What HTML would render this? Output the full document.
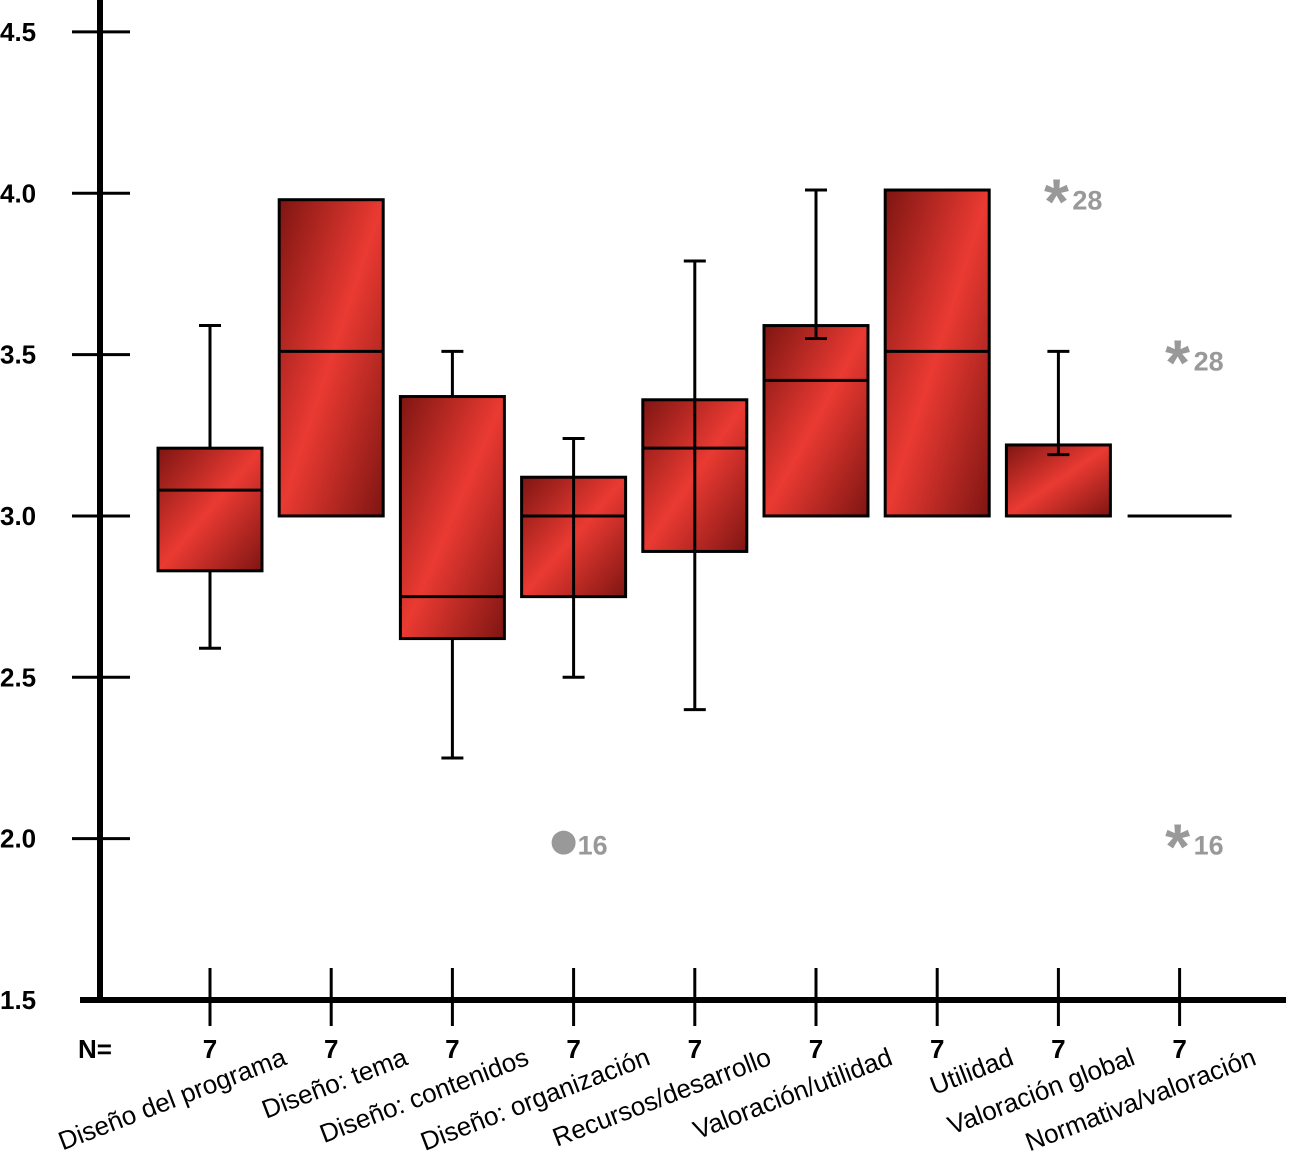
<!DOCTYPE html>
<html><head><meta charset="utf-8"><style>body{margin:0;background:#fff}svg{display:block}</style></head>
<body>
<svg id="chart" width="1289" height="1170" viewBox="0 0 1289 1170" xmlns="http://www.w3.org/2000/svg" font-family="Liberation Sans, sans-serif">
<defs>
<linearGradient id="g" x1="0" y1="0" x2="1" y2="1">
<stop offset="0" stop-color="#7e1512"/><stop offset="0.5" stop-color="#ea3a32"/><stop offset="1" stop-color="#7e1512"/>
</linearGradient>
</defs>
<g id="plot"></g>
</svg>
<script>
const categories=["Diseño del programa","Diseño: tema","Diseño: contenidos","Diseño: organización","Recursos/desarrollo","Valoración/utilidad","Utilidad","Valoración global","Normativa/valoración"];
const nValues=[7,7,7,7,7,7,7,7,7];
const q1=[2.83,3.0,2.62,2.75,2.89,3.0,3.0,3.0,3.0];
const medians=[3.08,3.51,2.75,3.0,3.21,3.42,3.51,3.0,3.0];
const q3=[3.21,3.98,3.37,3.12,3.36,3.59,4.01,3.22,3.0];
const whiskerLow=[2.59,null,2.25,2.5,2.4,3.55,null,3.19,null];
const whiskerHigh=[3.59,null,3.51,3.24,3.79,4.01,null,3.51,null];
const whiskerThrough=[false,false,false,true,true,false,false,false,false];
const outlierCat=[3,7,8,8];
const outlierVal=[2.0,4.0,3.5,2.0];
const outlierLabel=["16","28","28","16"];
const outlierType=["circle","star","star","star"];
const yTicks=[1.5,2.0,2.5,3.0,3.5,4.0,4.5];

const NS="http://www.w3.org/2000/svg";
const g=document.getElementById('plot');
const y=v=>1000-(v-1.5)*322.7;
const x=i=>210+i*121.2;
function el(t,a,p){const e=document.createElementNS(NS,t);for(const k in a)e.setAttribute(k,a[k]);(p||g).appendChild(e);return e;}

let e;
e=el('line',{x1:100,y1:0,x2:100,y2:1003,stroke:'#000','stroke-width':6});


e=el('line',{x1:80,y1:1000,x2:1286,y2:1000,stroke:'#000','stroke-width':6});



yTicks.forEach(t=>{
 if(t>1.5){e=el('line',{x1:72,y1:y(t),x2:130,y2:y(t),stroke:'#000','stroke-width':3});
 
 }
 e=el('text',{x:0,y:y(t)+9,'font-size':26,'font-weight':'bold',fill:'#000'});
 e.textContent=t.toFixed(1);
 
 
});

e=el('text',{x:78,y:1058,'font-size':26,'font-weight':'bold'});e.textContent='N=';



categories.forEach((c,i)=>{
 const cx=x(i);
 e=el('line',{x1:cx,y1:968,x2:cx,y2:1026,stroke:'#000','stroke-width':3});
 
 
 e=el('text',{x:cx,y:1058,'font-size':26,'font-weight':'bold','text-anchor':'middle'});e.textContent=nValues[i];
 
 
 const lx=cx+78,ly=1064;
 e=el('text',{x:lx,y:ly,'font-size':26,'text-anchor':'end',transform:`rotate(-21 ${lx} ${ly})`});e.textContent=c;
 
 
 const w=104,bx=cx-w/2;
 if(q3[i]>q1[i]){
  e=el('rect',{x:bx,y:y(q3[i]),width:w,height:y(q1[i])-y(q3[i]),fill:'url(#g)',stroke:'#000','stroke-width':3});
  
  
 }
 e=el('line',{x1:bx,y1:y(medians[i]),x2:bx+w,y2:y(medians[i]),stroke:'#000','stroke-width':3});
 
 
 if(whiskerThrough[i]){
  e=el('line',{x1:cx,y1:y(q3[i]),x2:cx,y2:y(q1[i]),stroke:'#000','stroke-width':3});
  
  
 }
 [whiskerLow[i],whiskerHigh[i]].forEach((wv,k)=>{
  if(wv==null)return;
  let from=k===0?q1[i]:q3[i];
  if(k===0 && wv>q1[i]) from=q3[i];
  e=el('line',{x1:cx,y1:y(wv),x2:cx,y2:y(from),stroke:'#000','stroke-width':3});
  
  
  e=el('line',{x1:cx-11,y1:y(wv),x2:cx+11,y2:y(wv),stroke:'#000','stroke-width':3});
  
  
 });
});

outlierCat.forEach((ci,j)=>{
 const cx=x(ci)-2,cy=y(outlierVal[j]);
 let lx=cx+16;
 if(outlierType[j]==='circle'){
  e=el('circle',{cx:cx-8,cy:cy+4,r:12,fill:'#999'});
  lx=cx+6;
 } else {
  e=el('text',{x:cx,y:cy+30,'font-size':64,'font-weight':'bold',fill:'#999','text-anchor':'middle'});e.textContent='*';
 }
 
 
 e=el('text',{x:lx,y:cy+16,'font-size':27,'font-weight':'bold',fill:'#999'});e.textContent=outlierLabel[j];
 
 
});
</script>
</body></html>
